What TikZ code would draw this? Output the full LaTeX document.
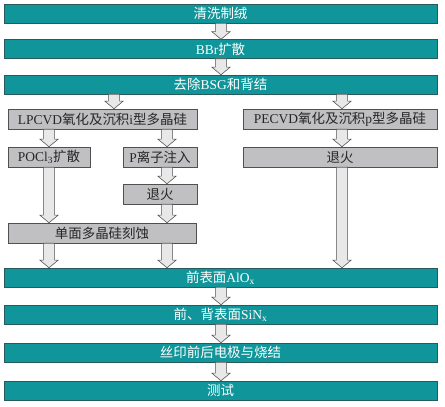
\documentclass[tikz,border=0pt]{standalone}
\usepackage{fontspec}
\setmainfont{Liberation Serif}
\newfontfamily\cjk{Noto Sans CJK SC}
\usetikzlibrary{calc}
\definecolor{tealbar}{RGB}{16,150,154}
\definecolor{tealline}{RGB}{40,90,92}
\definecolor{greybox}{RGB}{192,192,194}
\definecolor{greyline}{RGB}{80,80,80}
\begin{document}
\begin{tikzpicture}[x=0.03cm,y=-0.03cm,
  every node/.style={font=\fontsize{11.5}{12}\selectfont,inner sep=0pt},
  bar/.style={draw=tealline,fill=tealbar,text=white,minimum width=12.99cm,minimum height=0.57cm},
  gbox/.style={draw=greyline,fill=greybox,text=black!85,minimum height=0.6cm},
  blk/.style={draw=gray!65!black,fill=gray!18,line width=0.5pt,
    to path={let \p1=(\tikztostart), \p2=(\tikztotarget) in
      (\x1-4.8pt,\y1) -- (\x1-4.8pt,\y2+6.5pt) -- (\x1-7.8pt,\y2+6.5pt) -- (\x2,\y2)
      -- (\x1+7.8pt,\y2+6.5pt) -- (\x1+4.8pt,\y2+6.5pt) -- (\x1+4.8pt,\y1) -- cycle}}]
  \useasboundingbox (0,0) rectangle (445,406);
  % columns of the arrows
  \coordinate (cA) at (49,0);
  \coordinate (cB) at (114,0);
  \coordinate (cC) at (167,0);
  \coordinate (cD) at (221,0);
  \coordinate (cE) at (342,0);
  % main steps
  \node[bar] (qx) at (220.5,13.5) {\cjk 清洗制绒};
  \node[bar] (bbr) at (220.5,49) {BBr{\cjk 扩散}};
  \node[bar] (bsg) at (220.5,84.5) {{\cjk 去除}BSG{\cjk 和背结}};
  \node[bar] (alo) at (220.5,277.5) {{\cjk 前表面}AlO\textsubscript{x}};
  \node[bar] (sin) at (220.5,314.5) {{\cjk 前、背表面}SiN\textsubscript{x}};
  \node[bar] (sy) at (220.5,352.5) {\cjk 丝印前后电极与烧结};
  \node[bar] (cs) at (220.5,390.5) {\cjk 测试};
  % front side
  \node[gbox,minimum width=5.67cm] (lp) at (102.5,119) {LPCVD{\cjk 氧化及沉积}i{\cjk 型多晶硅}};
  \node[gbox,minimum width=2.46cm] (po) at (49,157) {POCl\textsubscript{3}{\cjk 扩散}};
  \node[gbox,minimum width=2.22cm] (pi) at (160,157) {P{\cjk 离子注入}};
  \node[gbox,minimum width=2.22cm] (thL) at (160,194) {\cjk 退火};
  \node[gbox,minimum width=5.64cm] (ke) at (102,233) {\cjk 单面多晶硅刻蚀};
  % rear side
  \node[gbox,minimum width=5.82cm] (pe) at (340,119) {PECVD{\cjk 氧化及沉积}p{\cjk 型多晶硅}};
  \node[gbox,minimum width=5.82cm] (thR) at (340,157) {\cjk 退火};
  % arrows
  \draw[blk] (qx.south -| cD) to (bbr.north -| cD);
  \draw[blk] (bbr.south -| cD) to (bsg.north -| cD);
  \draw[blk] (bsg.south -| cB) to (lp.north -| cB);
  \draw[blk] (bsg.south -| cE) to (pe.north -| cE);
  \draw[blk] (lp.south -| cA) to (po.north -| cA);
  \draw[blk] (lp.south -| cC) to (pi.north -| cC);
  \draw[blk] (pi.south -| cC) to (thL.north -| cC);
  \draw[blk] (po.south -| cA) to (ke.north -| cA);
  \draw[blk] (thL.south -| cC) to (ke.north -| cC);
  \draw[blk] (ke.south -| cA) to (alo.north -| cA);
  \draw[blk] (ke.south -| cC) to (alo.north -| cC);
  \draw[blk] (pe.south -| cE) to (thR.north -| cE);
  \draw[blk] (thR.south -| cE) to (alo.north -| cE);
  \draw[blk] (alo.south -| cD) to (sin.north -| cD);
  \draw[blk] (sin.south -| cD) to (sy.north -| cD);
  \draw[blk] (sy.south -| cD) to (cs.north -| cD);
\end{tikzpicture}
\end{document}
